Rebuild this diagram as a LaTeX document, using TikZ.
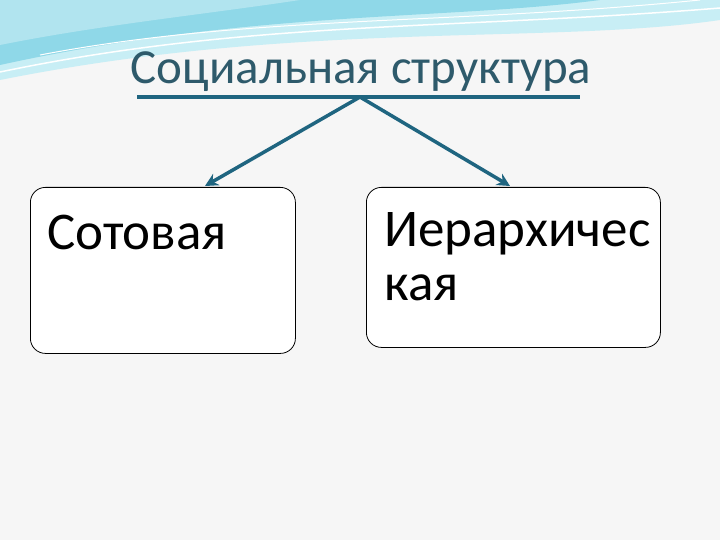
\documentclass[tikz,border=0pt]{standalone}
\usepackage{fontspec}
\setmainfont{Carlito}
\usetikzlibrary{arrows.meta}
\definecolor{bg}{HTML}{F6F6F6}
\definecolor{ttl}{HTML}{2E5A6B}
\definecolor{ln}{HTML}{1F6580}
\definecolor{wav1}{HTML}{8FD8E8}
\definecolor{wav2}{HTML}{C8EEF5}
\tikzset{box/.style={draw=black,fill=white,rounded corners=15pt,line width=0.8pt},
 conn/.style={draw=ln,line width=3.5pt,-{Stealth[length=13pt,width=13pt]}},
 lbl/.style={font=\fontsize{53}{54}\selectfont,anchor=base west,inner sep=0pt}}
\begin{document}
\begin{tikzpicture}[x=1pt,y=-1pt]
\fill[bg] (0,0) rectangle (720,540);
\useasboundingbox (0,0) rectangle (720,540);
% top wave decoration
\fill[wav2] (0,0) -- (720,0) -- (720,20) .. controls (550,45) and (300,20) .. (0,80) -- cycle;
\fill[wav1] (0,0) -- (600,0) .. controls (450,20) and (250,10) .. (0,65) -- cycle;
\fill[wav1!70!white] (0,0) -- (300,0) .. controls (200,15) and (100,25) .. (0,45) -- cycle;
\draw[white,line width=1.5pt] (0,72) .. controls (250,20) and (450,30) .. (720,8);
\draw[white,line width=1pt] (40,55) .. controls (250,15) and (450,25) .. (700,0);
% title
\node[font=\fontsize{49}{52}\selectfont,text=ttl,inner sep=0pt,anchor=base] (t) at (361,84) {Социальная структура};
\coordinate (ul) at (137,97); \coordinate (ur) at (580,97); \coordinate (mid) at (360,97);
\draw[ln,line width=4pt] (ul) -- (ur);
\node[box,minimum width=265pt,minimum height=166pt,anchor=north west] (a) at (30,187) {};
\node[box,minimum width=294pt,minimum height=160pt,anchor=north west] (b) at (366,187) {};
\coordinate (at) at (205,186); \coordinate (bt) at (510,186);
\draw[conn] (mid) -- (at);
\draw[conn] (mid) -- (bt);
\node[lbl] (la) at (47,249) {Сотовая};
\node[lbl] (lb1) at (384,246) {Иерархичес};
\node[lbl] (lb2) at (384,300) {кая};
\end{tikzpicture}
\end{document}
